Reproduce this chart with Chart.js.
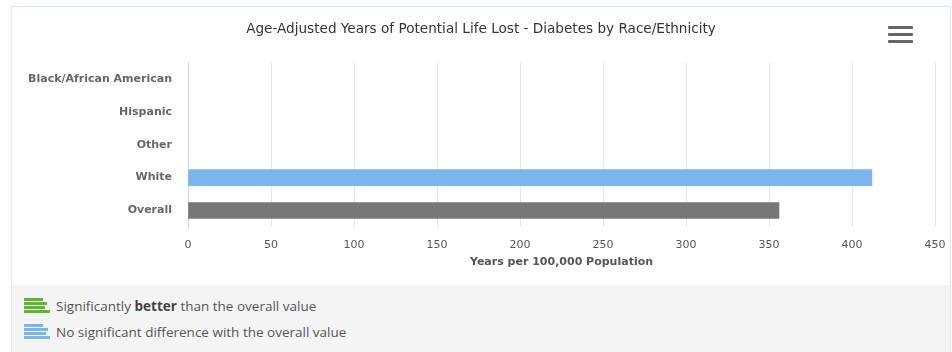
<!DOCTYPE html>
<html>
<head>
<meta charset="utf-8">
<script src="https://cdn.jsdelivr.net/npm/chart.js@4/dist/chart.umd.min.js"></script>
<style>
  body { margin: 0; background: #fff; }
  #box {
    position: absolute; left: 11px; top: 6px; width: 938px; height: 346px;
    border: 1px solid #d6e6f4; border-bottom: none; background: #fff;
  }
  #chartWrap { position: absolute; left: 0; top: 0; width: 938px; height: 278px; }
  #menu { position: absolute; left: 876px; top: 19px; width: 25px; }
  #menu div { height: 3px; background: #666; margin-bottom: 4px; border-radius: 1px; }
  #legend {
    position: absolute; left: 0; top: 278px; width: 938px; height: 68px;
    background: #f4f4f4; font-family: "Open Sans", sans-serif; font-size: 13.5px; color: #555;
  }
  .row { position: absolute; left: 12px; height: 20px; }
  .icon { position: absolute; left: 0; top: 1px; width: 26px; }
  .icon span { display: block; height: 3px; margin-bottom: 1px; }
  .row .txt { position: absolute; left: 32px; top: 0px; white-space: nowrap; }
</style>
</head>
<body>
<div id="box">
  <div id="chartWrap"><canvas id="myChart" width="938" height="278"></canvas></div>
  <div id="menu"><div></div><div></div><div></div></div>
  <div id="legend">
    <div class="row" style="top:12px">
      <div class="icon">
        <span style="width:19px;background:#5cb82c"></span>
        <span style="width:23px;background:#5cb82c"></span>
        <span style="width:21px;background:#5cb82c"></span>
        <span style="width:26px;background:#5cb82c"></span>
      </div>
      <div class="txt">Significantly <b style="color:#444">better</b> than the overall value</div>
    </div>
    <div class="row" style="top:38px">
      <div class="icon">
        <span style="width:19px;background:#7cb5ec"></span>
        <span style="width:24px;background:#7cb5ec"></span>
        <span style="width:22px;background:#7cb5ec"></span>
        <span style="width:26px;background:#7cb5ec"></span>
      </div>
      <div class="txt">No significant difference with the overall value</div>
    </div>
  </div>
</div>
<script>
let categories = ['Black/African American', 'Hispanic', 'Other', 'White', 'Overall'];
let values = [null, null, null, 412, 356];
let barColors = ['#7cb5ec', '#7cb5ec', '#7cb5ec', '#7cb5ec', '#777777'];
let xTicks = [0, 50, 100, 150, 200, 250, 300, 350, 400, 450];

const ctx = document.getElementById('myChart').getContext('2d');
const myChart = new Chart(ctx, {
    type: 'bar',
    data: {
        labels: categories,
        datasets: [{
            data: values,
            backgroundColor: barColors,
            borderWidth: 0,
            barThickness: 16
        }]
    },
    options: {
        indexAxis: 'y',
        responsive: false,
        animation: false,
        layout: { padding: { left: 0, right: 0, bottom: 16 } },
        plugins: {
            legend: { display: false },
            tooltip: { enabled: false },
            title: {
                display: true,
                text: 'Age-Adjusted Years of Potential Life Lost - Diabetes by Race/Ethnicity',
                color: '#333',
                font: { family: 'DejaVu Sans', size: 13.6, weight: 'normal' },
                padding: { top: 14, bottom: 25 }
            }
        },
        scales: {
            x: {
                min: 0,
                max: 450,
                afterBuildTicks: scale => { scale.ticks = xTicks.map(v => ({ value: v })); },
                afterFit: scale => {
                    // keep the plot edges where the original has them
                    scale.height = 42;
                    scale.paddingLeft = 0;
                    scale.paddingRight = 15;
                },
                grid: { color: '#e6e6e6', drawTicks: false },
                border: { display: false },
                ticks: { color: '#555', padding: 12, font: { family: 'DejaVu Sans', size: 11 } },
                title: {
                    display: true,
                    text: 'Years per 100,000 Population',
                    color: '#555',
                    padding: { top: 3, bottom: 0 },
                    font: { family: 'DejaVu Sans', size: 11, weight: 'bold' }
                }
            },
            y: {
                afterFit: scale => { scale.width = 176; },
                grid: { display: false, drawTicks: false },
                border: { display: true, color: '#ccd6eb' },
                ticks: { color: '#666', padding: 16, font: { family: 'DejaVu Sans', size: 11, weight: 'bold' } }
            }
        }
    }
});
</script>
</body>
</html>
